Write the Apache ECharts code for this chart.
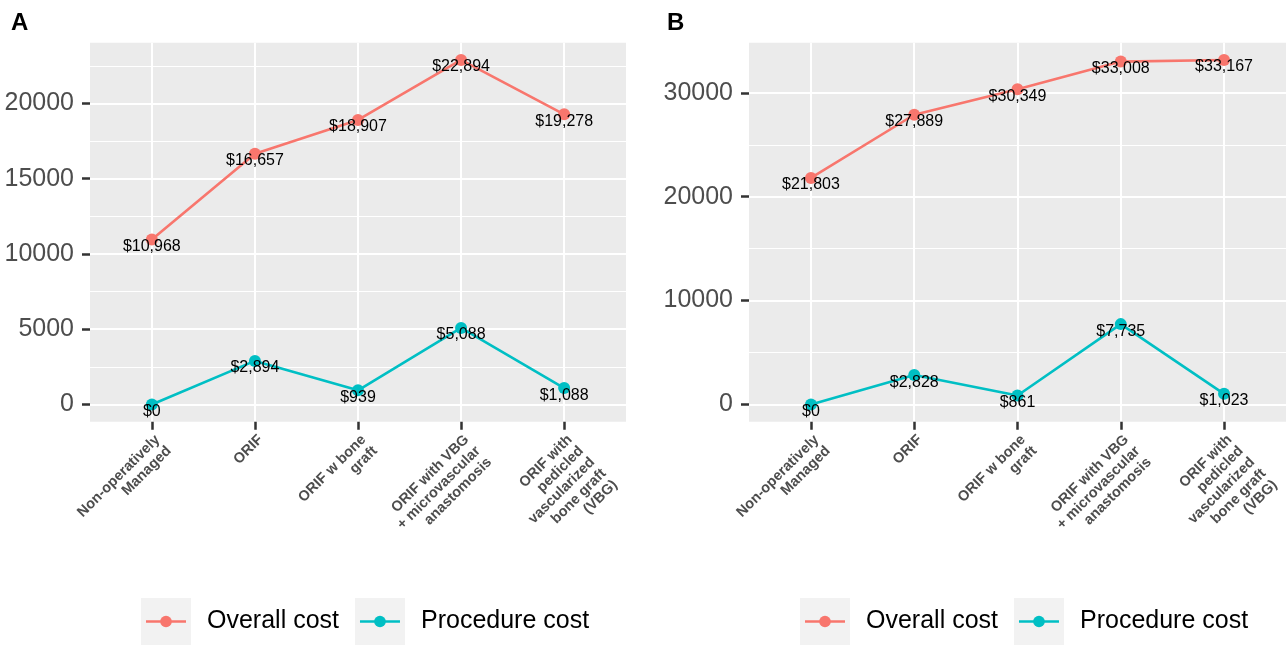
<!DOCTYPE html>
<html>
<head>
<meta charset="utf-8">
<script src="https://cdn.jsdelivr.net/npm/echarts@6/dist/echarts.min.js"></script>
<style>
  html, body { margin: 0; padding: 0; background: #fff; }
  #chart { width: 1286px; height: 645px; }
</style>
</head>
<body>
<div id="chart"></div>
<script>
// ---- data ----
const categories = [
  "Non-operatively\nManaged",
  "ORIF",
  "ORIF w bone\ngraft",
  "ORIF with VBG\n+ microvascular\nanastomosis",
  "ORIF with\npedicled\nvascularized\nbone graft\n(VBG)"
];
const seriesNames = ["Overall cost", "Procedure cost"];
const overallA = [10968, 16657, 18907, 22894, 19278];
const procedureA = [0, 2894, 939, 5088, 1088];
const overallB = [21803, 27889, 30349, 33008, 33167];
const procedureB = [0, 2828, 861, 7735, 1023];
const yTicksA = [0, 5000, 10000, 15000, 20000];
const yMinorA = [2500, 7500, 12500, 17500, 22500];
const yTicksB = [0, 10000, 20000, 30000];
const yMinorB = [5000, 15000, 25000];
const panelLabels = ["A", "B"];

// ---- style ----
const RED = "#F8766D", CYAN = "#00BFC4";
const FONT = "'Liberation Sans', Arial, Helvetica, sans-serif";
const catIdx = categories.map((_, i) => i);

function range(arrs) {
  const all = [].concat(...arrs);
  const lo = Math.min(...all), hi = Math.max(...all);
  const pad = (hi - lo) * 0.05;
  return [lo - pad, hi + pad];
}
const rA = range([overallA, procedureA]);
const rB = range([overallB, procedureB]);

function keyIcon(color) {
  const svg = '<svg xmlns="http://www.w3.org/2000/svg" width="50" height="47">' +
    '<rect width="50" height="47" fill="#f2f2f2"/>' +
    '<line x1="5" y1="23.5" x2="45" y2="23.5" stroke="' + color + '" stroke-width="2.6"/>' +
    '<circle cx="25" cy="23.5" r="5.8" fill="' + color + '"/></svg>';
  return 'image://data:image/svg+xml;charset=utf-8,' + encodeURIComponent(svg);
}

function xAxisFor(gi) {
  return {
    type: 'value', gridIndex: gi, min: -0.6, max: 4.6, position: 'bottom',
    axisLine: { show: false, onZero: false },
    axisTick: { show: true, customValues: catIdx, length: 8, lineStyle: { color: '#333', width: 2.5 } },
    axisLabel: {
      customValues: catIdx, rotate: 45, align: 'right', verticalAlign: 'top',
      margin: 10, color: '#4d4d4d', fontSize: 14.5, fontWeight: 'bold', lineHeight: 16,
      fontFamily: FONT, formatter: v => categories[v]
    },
    splitLine: { show: true, lineStyle: { color: '#fff', width: 2 } }
  };
}
function yAxisFor(gi, r, ticks) {
  return {
    type: 'value', gridIndex: gi, min: r[0], max: r[1], position: 'left',
    axisLine: { show: false, onZero: false },
    axisTick: { show: true, customValues: ticks, length: 8, lineStyle: { color: '#333', width: 2.5 } },
    axisLabel: { customValues: ticks, margin: 16, color: '#4d4d4d', fontSize: 25, fontFamily: FONT, formatter: v => String(v) },
    splitLine: { show: true, lineStyle: { color: '#fff', width: 2 } }
  };
}
function yMinorFor(gi, r, ticks) {
  return {
    type: 'value', gridIndex: gi, min: r[0], max: r[1], position: 'left',
    axisLine: { show: false, onZero: false },
    axisTick: { show: false, customValues: ticks },
    axisLabel: { show: false, customValues: ticks },
    splitLine: { show: true, lineStyle: { color: '#fff', width: 1 } }
  };
}
function lineSeries(name, color, vals, xi, yi) {
  return {
    type: 'line', name: name, xAxisIndex: xi, yAxisIndex: yi,
    data: vals.map((v, i) => [i, v]),
    symbol: 'circle', symbolSize: 12,
    lineStyle: { color: color, width: 2.6 },
    itemStyle: { color: color },
    label: {
      show: true, position: 'inside', offset: [0, 7],
      color: '#000', fontSize: 16, fontFamily: FONT,
      formatter: p => '$' + p.value[1].toLocaleString('en-US')
    },
    emphasis: { disabled: true },
    z: 3
  };
}
function legendFor(left) {
  return {
    left: left, top: 598, orient: 'horizontal', padding: 0,
    itemWidth: 50, itemHeight: 47, itemGap: 16, selectedMode: false,
    textStyle: { fontSize: 25, color: '#000', fontFamily: FONT, padding: [5, 0, 0, 11] },
    data: [
      { name: seriesNames[0], icon: keyIcon(RED) },
      { name: seriesNames[1], icon: keyIcon(CYAN) }
    ]
  };
}

const chart = echarts.init(document.getElementById('chart'), null, { renderer: 'canvas' });
chart.setOption({
  animation: false,
  backgroundColor: '#fff',
  title: [
    { text: panelLabels[0], left: 11, top: 11, padding: 0, textStyle: { fontSize: 24, fontWeight: 'bold', color: '#000', fontFamily: FONT } },
    { text: panelLabels[1], left: 667, top: 11, padding: 0, textStyle: { fontSize: 24, fontWeight: 'bold', color: '#000', fontFamily: FONT } }
  ],
  grid: [
    { left: 90, top: 42.7, width: 536, height: 379, show: true, backgroundColor: '#ebebeb', borderWidth: 0, outerBoundsMode: 'none', containLabel: false },
    { left: 749, top: 42.7, width: 537, height: 379, show: true, backgroundColor: '#ebebeb', borderWidth: 0, outerBoundsMode: 'none', containLabel: false }
  ],
  xAxis: [xAxisFor(0), xAxisFor(1)],
  yAxis: [
    yAxisFor(0, rA, yTicksA), yMinorFor(0, rA, yMinorA),
    yAxisFor(1, rB, yTicksB), yMinorFor(1, rB, yMinorB)
  ],
  legend: [legendFor(141), legendFor(800)],
  series: [
    lineSeries(seriesNames[0], RED, overallA, 0, 0),
    lineSeries(seriesNames[1], CYAN, procedureA, 0, 0),
    lineSeries(seriesNames[0], RED, overallB, 1, 2),
    lineSeries(seriesNames[1], CYAN, procedureB, 1, 2)
  ]
});
</script>
</body>
</html>
